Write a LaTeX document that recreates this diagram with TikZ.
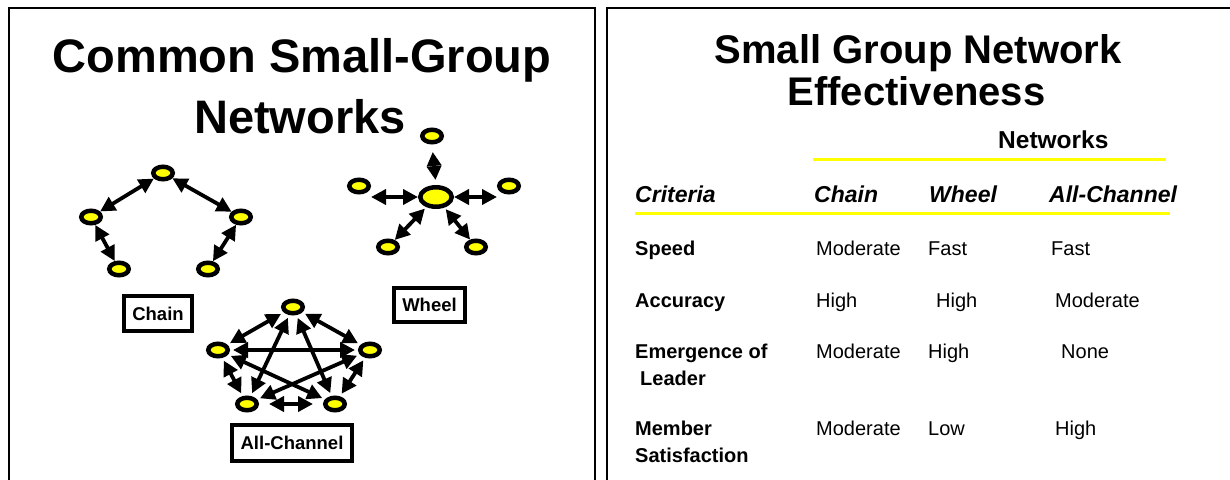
\documentclass[tikz,border=0pt]{standalone}
\usepackage{fontspec}
\setmainfont{Liberation Sans}
\usetikzlibrary{arrows.meta,shapes.geometric}
\definecolor{yel}{RGB}{255,255,0}
\begin{document}
\begin{tikzpicture}[x=1pt,y=-1pt,
  dot/.style={ellipse,draw=black,line width=4.5pt,fill=yel,minimum width=19.5pt,minimum height=12.5pt,inner sep=0pt},
  bigdot/.style={dot,minimum width=31.5pt,minimum height=19.5pt},
  arr/.style={line width=3.8pt,{Triangle[length=15pt,width=15pt]}-{Triangle[length=15pt,width=15pt]}},
  lbl/.style={draw=black,line width=4pt,inner sep=0pt,font=\bfseries\fontsize{18.5}{22}\selectfont},
  frame/.style={line width=2pt},
  txt/.style={anchor=base west,inner sep=0pt},
  bigtitle/.style={anchor=base,inner sep=0pt,font=\bfseries\fontsize{47}{56}\selectfont},
  rtitle/.style={anchor=base,inner sep=0pt,font=\bfseries\fontsize{40}{48}\selectfont},
  hdr/.style={txt,font=\bfseries\itshape\fontsize{23}{28}\selectfont},
  rowlab/.style={txt,font=\bfseries\fontsize{20}{24}\selectfont},
  val/.style={txt,font=\fontsize{20}{24}\selectfont},
  yline/.style={draw=yel,line width=3pt}
]
\useasboundingbox (0,0) rectangle (1230,479);
% frames
\draw[frame] (9,480) -- (9,8) -- (595,8) -- (595,480);
\draw[frame] (607,480) -- (607,8) -- (1231,8);

% left title
\node[bigtitle] (tl1) at (302,72) {Common Small-Group};
\node[bigtitle] (tl2) at (300,133) {Networks};

% chain
\node[dot] (ct) at (163,173) {};
\node[dot] (cl) at (91,217) {};
\node[dot] (cr) at (241,217) {};
\node[dot] (cbl) at (119,269) {};
\node[dot] (cbr) at (208,269) {};
\draw[arr] (ct) -- (cl);
\draw[arr] (ct) -- (cr);
\draw[arr] (cl) -- (cbl);
\draw[arr] (cr) -- (cbr);
\node[lbl,minimum width=68pt,minimum height=35pt] (chainlbl) at (158,313.5) {Chain};

% wheel
\node[bigdot] (wc) at (436,197) {};
\node[dot] (wt) at (432,136) {};
\node[dot] (wl) at (359,186) {};
\node[dot] (wr) at (509,186) {};
\node[dot] (wbl) at (388,247) {};
\node[dot] (wbr) at (476,247) {};
\draw[line width=3.8pt,{Triangle[length=14pt,width=14pt]}-{Triangle[length=14pt,width=14pt]},shorten <=5pt,shorten >=7.5pt] (wc.north) -- (wt.south);
\draw[arr] (wc.west) -- (wc.west -| wl.east);
\draw[arr] (wc.east) -- (wc.east -| wr.west);
\draw[arr,shorten <=2pt] (wc) -- (wbl);
\draw[arr,shorten <=2pt] (wc) -- (wbr);
\node[lbl,minimum width=71pt,minimum height=34pt] (wheellbl) at (429.5,305) {Wheel};

% all-channel
\node[dot] (at) at (293,307) {};
\node[dot] (al) at (218,350) {};
\node[dot] (ar) at (370,350) {};
\node[dot] (abl) at (247,404) {};
\node[dot] (abr) at (335,404) {};
\begin{scope}[every path/.append style={shorten <=3pt,shorten >=3pt}]
\draw[arr] (at) -- (al);
\draw[arr] (at) -- (ar);
\draw[arr] (al) -- (abl);
\draw[arr] (ar) -- (abr);
\draw[arr] (at) -- (abl);
\draw[arr] (at) -- (abr);
\draw[arr] (al) -- (ar);
\draw[arr] (al) -- (abr);
\draw[arr] (ar) -- (abl);
\draw[arr,shorten <=10pt,shorten >=10pt] (abl) -- (abr);
\end{scope}
\node[lbl,minimum width=120pt,minimum height=36pt] (alllbl) at (292,443) {All-Channel};

% right title
\node[rtitle] (tr1) at (918,63) {Small Group Network};
\node[rtitle] (tr2) at (916.5,105) {Effectiveness};
\node[txt,font=\bfseries\fontsize{24.5}{29}\selectfont] (nw) at (998,148) {Networks};
\coordinate (y1a) at (813,159);
\coordinate (y1b) at (1166,159);
\draw[yline] (y1a) -- (y1b);

\node[hdr] (hcrit) at (635,202) {Criteria};
\node[hdr] (hchain) at (814,202) {Chain};
\node[hdr] (hwheel) at (929,202) {Wheel};
\node[hdr] (hall) at (1049,202) {All-Channel};
\coordinate (y2a) at (635,213);
\coordinate (y2b) at (1170,213);
\draw[yline] (y2a) -- (y2b);

% rows
\node[rowlab] (r1) at (635,255) {Speed};
\node[val] (r1a) at (816,255) {Moderate};
\node[val] (r1b) at (928,255) {Fast};
\node[val] (r1c) at (1051,255) {Fast};

\node[rowlab] (r2) at (635,307) {Accuracy};
\node[val] (r2a) at (816,307) {High};
\node[val] (r2b) at (936,307) {High};
\node[val] (r2c) at (1055,307) {Moderate};

\node[rowlab] (r3) at (635,358) {Emergence of};
\node[rowlab] (r3l) at (640,385) {Leader};
\node[val] (r3a) at (816,358) {Moderate};
\node[val] (r3b) at (928,358) {High};
\node[val] (r3c) at (1061,358) {None};

\node[rowlab] (r4) at (635,435) {Member};
\node[rowlab] (r4l) at (635,462) {Satisfaction};
\node[val] (r4a) at (816,435) {Moderate};
\node[val] (r4b) at (928,435) {Low};
\node[val] (r4c) at (1055,435) {High};
\end{tikzpicture}
\end{document}
